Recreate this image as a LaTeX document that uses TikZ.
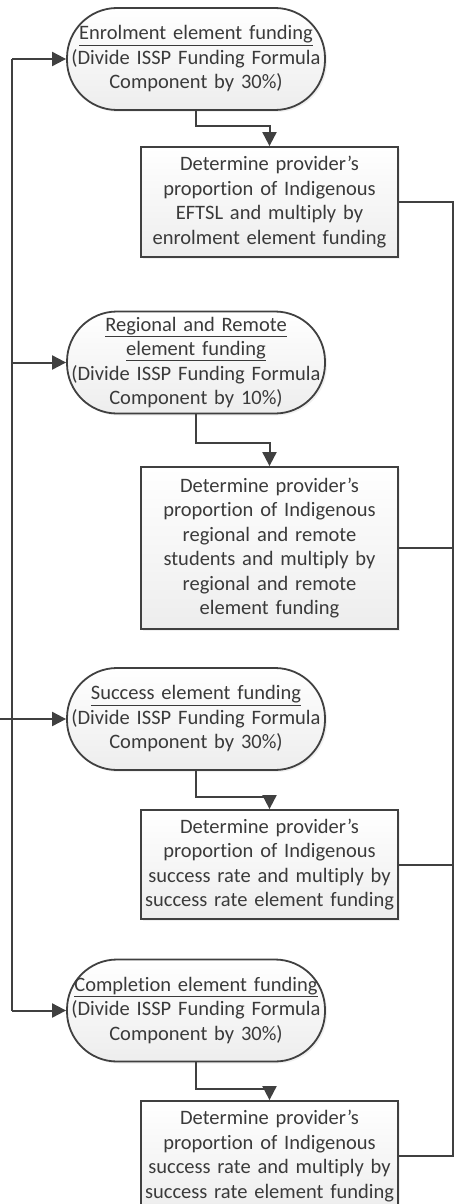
\documentclass[tikz,border=0pt]{standalone}
\usepackage{fontspec}
\setmainfont{Carlito}[Ligatures=CommonOff]
\usetikzlibrary{arrows.meta,shadows}
\definecolor{ln}{HTML}{404040}
\definecolor{tx}{HTML}{3A3A3A}
\tikzset{
  base/.style={draw=ln, line width=1.8pt, text=tx, align=center, inner sep=0pt,
    font=\fontsize{20.5}{24.5}\selectfont, top color=white, bottom color=gray!14,
    drop shadow={opacity=0.12, shadow xshift=2pt, shadow yshift=-2pt}},
  term/.style={base, rectangle, rounded corners=50pt, minimum width=258pt, minimum height=102pt, text width=252pt},
  proc/.style={base, rectangle, minimum width=257pt, text width=252pt},
  conn/.style={draw=ln, line width=2pt},
  arr/.style={conn, -{Triangle[length=14pt,width=14pt]}}
}
\begin{document}
\begin{tikzpicture}[x=1pt,y=-1pt]
\useasboundingbox (0,0) rectangle (455,1204);
\clip (0,0) rectangle (455,1204);
\node[term] (e1) at (196,59) {\underline{Enrolment element funding}\\(Divide ISSP Funding Formula\\Component by 30\%)};
\node[proc, minimum height=110pt] (b1) at (269.5,202) {Determine provider’s\\proportion of Indigenous\\EFTSL and multiply by\\enrolment element funding};
\node[term] (e2) at (196,362.5) {\underline{Regional and Remote}\\\underline{element funding}\\(Divide ISSP Funding Formula\\Component by 10\%)};
\node[proc, minimum height=162pt] (b2) at (269.5,548) {Determine provider’s\\proportion of Indigenous\\regional and remote\\students and multiply by\\regional and remote\\element funding};
\node[term] (e3) at (196,719) {\underline{Success element funding}\\(Divide ISSP Funding Formula\\Component by 30\%)};
\node[proc, minimum height=109pt] (b3) at (269.5,864.5) {Determine provider’s\\proportion of Indigenous\\success rate and multiply by\\success rate element funding};
\node[term] (e4) at (196,1010.5) {\underline{Completion element funding}\\(Divide ISSP Funding Formula\\Component by 30\%)};
\node[proc, minimum height=110pt] (b4) at (269.5,1156) {Determine provider’s\\proportion of Indigenous\\success rate and multiply by\\success rate element funding};
% ellipse to box
\draw[arr] (e1.south) -- ++(0,15) -| (b1.north);
\draw[arr] (e2.south) -- ++(0,29) -| (b2.north);
\draw[arr] (e3.south) -- ++(0,26) -| (b3.north);
\draw[arr] (e4.south) -- ++(0,27) -| (b4.north);
% left bus
\coordinate (lt) at (12,59);
\coordinate (lb) at (12,1010.5);
\coordinate (s0) at (0,719);
\draw[conn] (lt) -- (lb);
\draw[arr] (lt) -- (e1.west);
\draw[arr] (lt |- e2.west) -- (e2.west);
\draw[arr] (s0) -- (e3.west);
\draw[arr] (lb) -- (e4.west);
% right bus
\coordinate (rt) at (453,202);
\coordinate (rb) at (453,1156);
\draw[conn] (b1.east) -- (rt) -- (rb) -- (b4.east);
\draw[conn] (b2.east) -- (b2.east -| rt);
\draw[conn] (b3.east) -- (b3.east -| rt);
\end{tikzpicture}
\end{document}
